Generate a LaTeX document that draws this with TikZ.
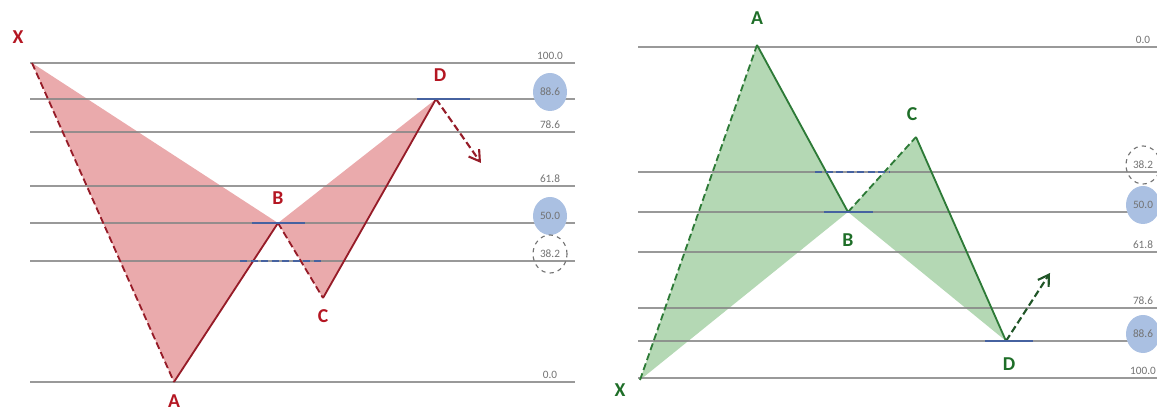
\documentclass[tikz,border=0pt]{standalone}
\usepackage{fontspec}
\setmainfont{Carlito}
\usetikzlibrary{arrows.meta,shapes.geometric}
\definecolor{lvlgray}{RGB}{135,135,135}
\definecolor{lvltext}{RGB}{115,115,115}
\definecolor{ringblue}{RGB}{170,192,226}
\definecolor{segblue}{RGB}{70,98,160}
\definecolor{redfill}{RGB}{234,170,172}
\definecolor{redline}{RGB}{150,28,40}
\definecolor{redlbl}{RGB}{180,22,34}
\definecolor{grnfill}{RGB}{180,216,180}
\definecolor{grnline}{RGB}{45,122,55}
\definecolor{grnlbl}{RGB}{30,110,40}

\begin{document}
\begin{tikzpicture}[
    x=0.025cm, y=-0.025cm,
    level/.style={draw=lvlgray, line width=1.4pt},
    lvltxt/.style={font=\fontsize{8}{9}\selectfont, text=lvltext, inner sep=0pt},
    ring/.style={lvltxt, ellipse, fill=ringblue, minimum width=0.85cm, minimum height=0.95cm},
    ringdash/.style={lvltxt, ellipse, draw=lvltext, dashed, thick, minimum width=0.85cm, minimum height=0.95cm},
    ptred/.style={font=\fontsize{14}{16}\selectfont\bfseries, text=redlbl, inner sep=0pt},
    ptgrn/.style={font=\fontsize{14}{16}\selectfont\bfseries, text=grnlbl, inner sep=0pt},
    legred/.style={draw=redline, line width=1.3pt},
    leggrn/.style={draw=grnline, line width=1.3pt},
    legdash/.style={dash pattern=on 5pt off 2.5pt},
    seg/.style={draw=segblue, line width=2pt},
    nextmove/.style={legdash, line width=1.5pt, -{Straight Barb[length=2.6mm,width=3.2mm]}}
  ]
  \useasboundingbox (0,0) rectangle (1157,411);

  % ---- bearish butterfly (left)
  \coordinate (lX) at (32,63);
  \coordinate (lA) at (174,382);
  \coordinate (lB) at (278,223);
  \coordinate (lC) at (323,298);
  \coordinate (lD) at (436,99);
  \coordinate (lT) at (481,163);

  \fill[redfill] (lX) -- (lA) -- (lB) -- cycle;
  \fill[redfill] (lB) -- (lC) -- (lD) -- cycle;

  \foreach \y in {63,99,132,186,223,261,382}
    \draw[level, opacity=0.85] (30,\y) -- (575,\y);
  \foreach \y/\t/\s in {63/100.0/lvltxt, 99/88.6/ring, 132/78.6/lvltxt, 186/61.8/lvltxt,
                        223/50.0/ring, 261/38.2/ringdash, 382/0.0/lvltxt}
    \node[\s] (llv\y) at (550,\y-7) {\t};

  \draw[legred, legdash] (lX) -- (lA);
  \draw[legred] (lA) -- (lB);
  \draw[legred, legdash] (lB) -- (lC);
  \draw[legred] (lC) -- (lD);
  \draw[nextmove, draw=redline] (lD) -- (lT);

  \draw[seg] (lB) ++(-26,0) -- ++(53,0);
  \draw[seg, legdash] (240,261) -- (321,261);
  \draw[seg] (lD) ++(-19,0) -- ++(53,0);

  \node[ptred] (lXl) at (18,37) {X};
  \node[ptred] (lAl) at (174,401) {A};
  \node[ptred] (lBl) at (278,198) {B};
  \node[ptred] (lCl) at (323,316) {C};
  \node[ptred] (lDl) at (440,75) {D};

  % ---- bullish butterfly (right)
  \coordinate (rX) at (640,380);
  \coordinate (rA) at (757,45);
  \coordinate (rB) at (848,212);
  \coordinate (rC) at (916,137);
  \coordinate (rD) at (1006,341);
  \coordinate (rT) at (1050,273);

  \fill[grnfill] (rX) -- (rA) -- (rB) -- cycle;
  \fill[grnfill] (rB) -- (rC) -- (rD) -- cycle;

  \foreach \y in {47,172,212,252,308,341,378}
    \draw[level, opacity=0.85] (638,\y) -- (1157,\y);
  \foreach \y/\t/\s in {47/0.0/lvltxt, 172/38.2/ringdash, 212/50.0/ring, 252/61.8/lvltxt,
                        308/78.6/lvltxt, 341/88.6/ring, 378/100.0/lvltxt}
    \node[\s] (rlv\y) at (1143,\y-7) {\t};

  \draw[leggrn, legdash] (rX) -- (rA);
  \draw[leggrn] (rA) -- (rB);
  \draw[leggrn, legdash] (rB) -- (rC);
  \draw[leggrn] (rC) -- (rD);
  \draw[nextmove, draw=grnline!70!black] (rD) -- (rT);

  \draw[seg, legdash] (815,172) -- (890,172);
  \draw[seg] (rB) ++(-24,0) -- ++(49,0);
  \draw[seg] (rD) ++(-21,0) -- ++(48,0);

  \node[ptgrn] (rAl) at (757,18) {A};
  \node[ptgrn] (rXl) at (620,390) {X};
  \node[ptgrn] (rBl) at (848,240) {B};
  \node[ptgrn] (rCl) at (912,114) {C};
  \node[ptgrn] (rDl) at (1009,364) {D};
\end{tikzpicture}
\end{document}
